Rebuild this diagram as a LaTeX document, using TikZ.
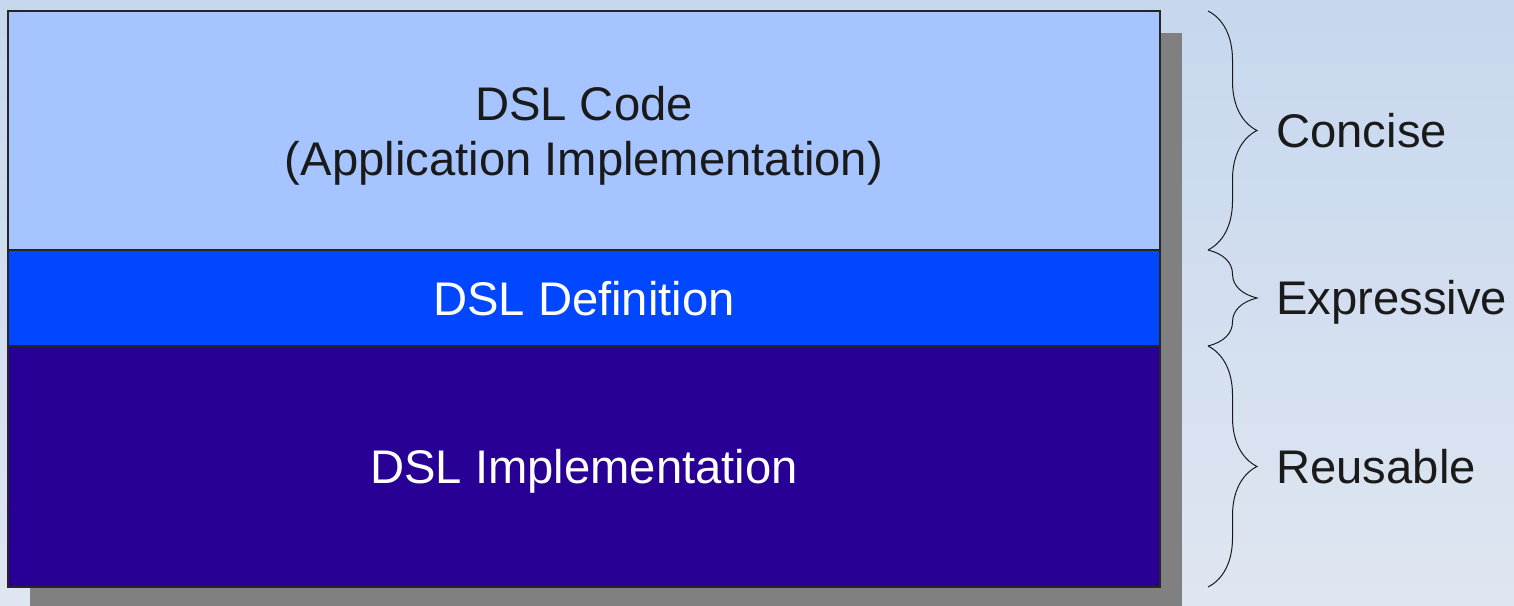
\documentclass[tikz,border=0pt]{standalone}
\usepackage{fontspec}
\setmainfont{Liberation Sans}
\usetikzlibrary{positioning,calc,decorations.pathreplacing,shadows}
\definecolor{bgtop}{HTML}{C6D7EE}
\definecolor{bgbot}{HTML}{DFE6F1}
\definecolor{codefill}{HTML}{A6C4FF}
\definecolor{deffill}{HTML}{0047FF}
\definecolor{implfill}{HTML}{290096}
\definecolor{shadowgray}{HTML}{808080}
\definecolor{ink}{HTML}{1A1A1A}
\tikzset{
  lag/.style={draw=black!85,line width=0.6pt,inner sep=0pt,outer sep=0pt,
    minimum width=576pt,align=center,text depth=0pt,
    drop shadow={shadow xshift=11pt,shadow yshift=-11pt,fill=shadowgray,opacity=1}},
  kapocs/.style={decorate,decoration={brace,amplitude=24.5pt},line width=0.5pt,ink},
  cimke/.style={anchor=base west,inner sep=0pt,text=ink},
}

\begin{document}
\begin{tikzpicture}[x=0.5pt,y=0.5pt,font=\fontsize{23.6pt}{27.5pt}\selectfont]
  \shade[top color=bgtop,bottom color=bgbot] (0,0) rectangle (1514,605);
  \useasboundingbox (0,0) rectangle (1514,605);
  \node[lag,fill=codefill,text=ink,minimum height=119.5pt] (code) at (584,474.5)
    {DSL Code\\(Application Implementation)};
  \node[lag,fill=deffill,text=white,minimum height=48pt,below=0pt of code] (defn)
    {DSL Definition};
  \node[lag,fill=implfill,text=white,minimum height=120.5pt,below=0pt of defn] (impl)
    {DSL Implementation};
  % braces on the right
  \draw[kapocs] ($(code.north east)+(48,0)$) -- ($(code.south east)+(48,0)$);
  \draw[kapocs] ($(defn.north east)+(48,0)$) -- ($(defn.south east)+(48,0)$);
  \draw[kapocs] ($(impl.north east)+(48,0)$) -- ($(impl.south east)+(48,0)$);
  \node[cimke] (concise) at ($(code.east)+(116,-17)$) {Concise};
  \node[cimke] (expr) at ($(defn.east)+(116,-17)$) {Expressive};
  \node[cimke] (reuse) at ($(impl.east)+(116,-17)$) {Reusable};
\end{tikzpicture}
\end{document}
